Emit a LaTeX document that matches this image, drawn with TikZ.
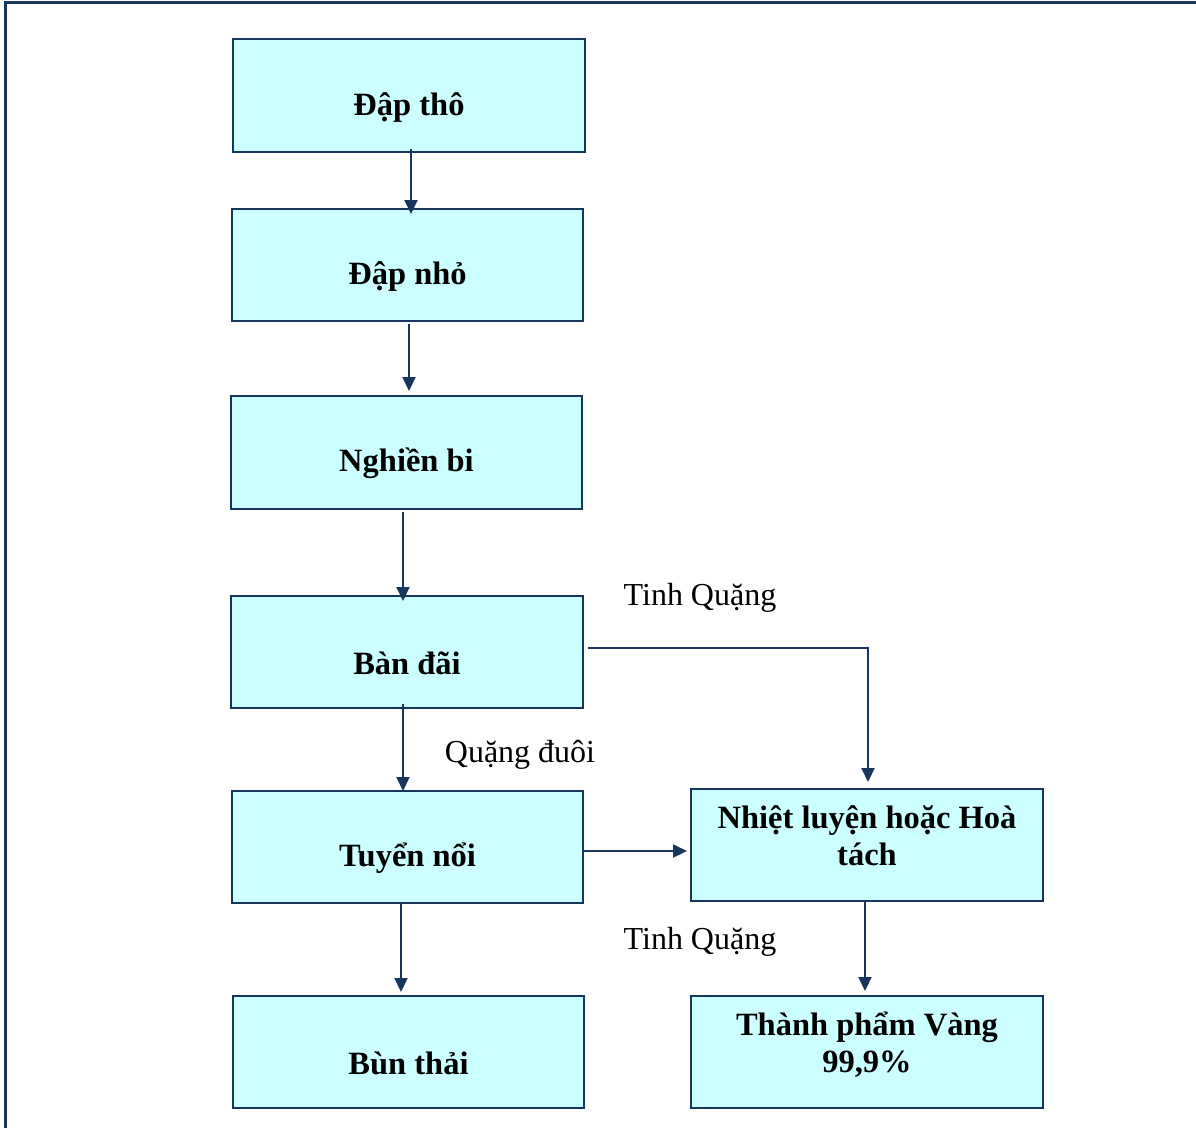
\documentclass[tikz,border=0pt]{standalone}
\usepackage{fontspec}
\setmainfont{Liberation Serif}
\usetikzlibrary{arrows.meta}
\definecolor{navy}{RGB}{23,54,93}
\definecolor{boxfill}{RGB}{204,255,255}
\begin{document}
\begin{tikzpicture}[x=1pt,y=-1pt,
  box/.style={draw=navy,fill=boxfill,line width=2pt,minimum width=351pt,minimum height=112pt,inner sep=0pt,anchor=north west},
  lbl/.style={font=\fontsize{32.5}{37}\selectfont\bfseries,align=center,inner sep=0pt},
  note/.style={font=\fontsize{32}{37}\selectfont,inner sep=0pt},
  flow/.style={draw=navy,line width=2pt,-{Triangle[length=14pt,width=13pt]}}]
\useasboundingbox (0,0) rectangle (1196,1128);
\draw[navy,line width=3pt] (5,1128) -- (5,2) -- (1196,2);
% boxes
\node[box,minimum width=352pt,minimum height=113pt] (b1) at (232,38) {};
\node[box] (b2) at (231,208) {};
\node[box,minimum height=113pt] (b3) at (230,395) {};
\node[box,minimum width=352pt] (b4) at (230,595) {};
\node[box] (b5) at (231,790) {};
\node[box] (b6) at (232,995) {};
\node[box,minimum width=352pt] (b7) at (690,788) {};
\node[box,minimum width=352pt] (b8) at (690,995) {};
% texts
\node[lbl] (t1) at ([yshift=-12pt]b1.center) {Đập thô};
\node[lbl] (t2) at ([yshift=-11pt]b2.center) {Đập nhỏ};
\node[lbl] (t3) at ([yshift=-11pt]b3.center) {Nghiền bi};
\node[lbl] (t4) at ([yshift=-11pt]b4.center) {Bàn đãi};
\node[lbl] (t5) at ([yshift=-11pt]b5.center) {Tuyển nổi};
\node[lbl] (t6) at ([yshift=-11pt]b6.center) {Bùn thải};
\node[lbl] (t7) at ([yshift=9pt]b7.center) {Nhiệt luyện hoặc Hoà\\tách};
\node[lbl] (t8) at ([yshift=7pt]b8.center) {Thành phẩm Vàng\\99,9\%};
% notes
\node[note] (n1) at (700,598) {Tinh Quặng};
\node[note] (n2) at (520,755) {Quặng đuôi};
\node[note] (n3) at (700,942) {Tinh Quặng};
% connectors
\draw[flow] ([xshift=2pt,yshift=4pt]b1.south) -- ([xshift=3.5pt,yshift=-6pt]b2.north);
\draw[flow] ([xshift=1.5pt,yshift=-2pt]b2.south) -- ([xshift=2.5pt,yshift=4pt]b3.north);
\draw[flow] ([xshift=-3.5pt,yshift=-2pt]b3.south) -- ([xshift=-4pt,yshift=-6pt]b4.north);
\draw[flow] ([xshift=-4pt,yshift=5pt]b4.south) -- ([xshift=-4.5pt,yshift=-1pt]b5.north);
\draw[flow] ([xshift=-6.5pt]b5.south) -- ([xshift=-7.5pt,yshift=3pt]b6.north);
\draw[flow] ([xshift=4pt,yshift=4pt]b4.east) -| ([xshift=1pt,yshift=6pt]b7.north);
\draw[flow] ([yshift=-4pt]b5.east) -- ([xshift=-3pt,yshift=-6pt]b7.west);
\draw[flow] ([xshift=-2pt,yshift=2pt]b7.south) -- ([xshift=-2pt,yshift=4pt]b8.north);
\end{tikzpicture}
\end{document}
